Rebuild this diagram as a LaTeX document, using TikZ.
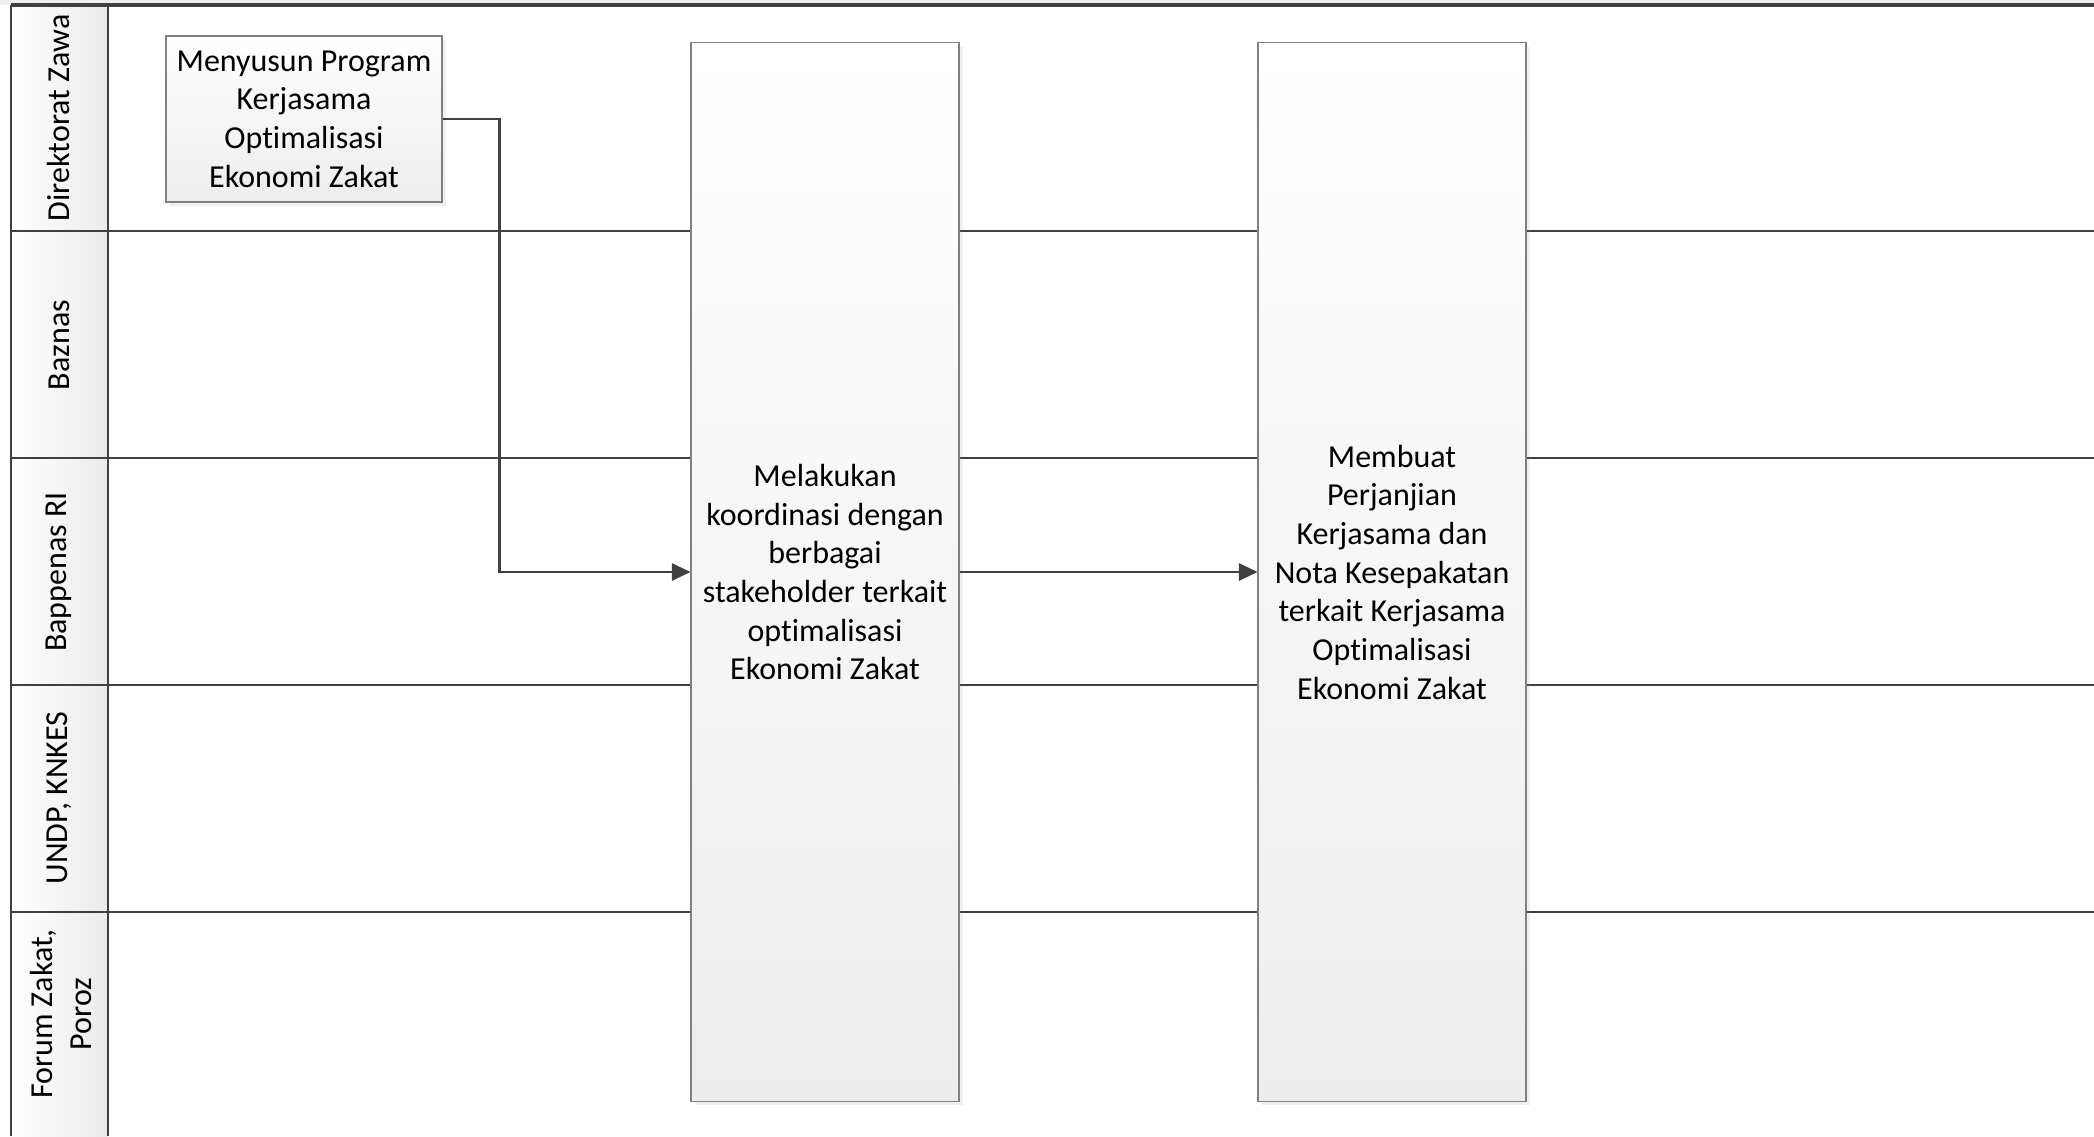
\documentclass[tikz,border=0pt]{standalone}
\usepackage{fontspec}
\setmainfont{Carlito}[Ligatures=NoCommon]
\usepackage{xcolor}
\usetikzlibrary{arrows.meta,shadows}
\definecolor{laneline}{RGB}{64,64,64}
\definecolor{boxedge}{RGB}{128,128,128}
\definecolor{headgray}{RGB}{240,240,240}
\tikzset{
  procbox/.style={
    rectangle,
    draw=boxedge,
    thick,
    top color=white,
    bottom color=black!7,
    align=center,
    inner sep=4pt,
    font=\fontsize{24}{29}\selectfont,
    drop shadow={shadow xshift=3pt,shadow yshift=-3pt,opacity=0.12}
  },
  lanelabel/.style={
    rotate=90,
    align=center,
    font=\fontsize{24}{29}\selectfont
  },
  laneline/.style={
    draw=laneline,
    line width=1.6pt
  },
  procarrow/.style={
    -{Triangle[length=14pt,width=13pt]},
    line width=1.6pt,
    draw=laneline
  }
}

\begin{document}
\begin{tikzpicture}[x=0.75pt,y=-0.75pt]
\useasboundingbox (0,0) rectangle (2094,1136);

% pool and lanes
\fill[headgray] (0,0) rectangle (2094,5);
\shade[left color=white,right color=black!8] (11,5) rectangle (108,1136);
\foreach \yy in {231,458,685,912}
  \draw[laneline] (11,\yy) -- (2094,\yy);
\draw[laneline] (11,1136) -- (11,5);
\draw[laneline] (108,5) -- (108,1136);
\draw[draw=laneline,line width=2.4pt] (11,5) -- (2094,5);

\node[lanelabel] (dirzawa) at (59,118) {Direktorat Zawa};
\node[lanelabel] (baznas) at (59,345) {Baznas};
\node[lanelabel] (bappenas) at (59,572) {Bappenas RI};
\node[lanelabel] (undp) at (59,798) {UNDP, KNKES};
\node[lanelabel] (forum) at (61,1014) {Forum Zakat,\\Poroz};

% process steps
\node[procbox, minimum width=207pt, minimum height=124.5pt] (menyusun) at (304,119)
  {Menyusun Program\\Kerjasama\\Optimalisasi\\Ekonomi Zakat};
\node[procbox, minimum width=201pt, minimum height=794pt] (koordinasi) at (825,572)
  {Melakukan\\koordinasi dengan\\berbagai\\stakeholder terkait\\optimalisasi\\Ekonomi Zakat};
\node[procbox, minimum width=201pt, minimum height=794pt] (perjanjian) at (1392,572)
  {Membuat\\Perjanjian\\Kerjasama dan\\Nota Kesepakatan\\terkait Kerjasama\\Optimalisasi\\Ekonomi Zakat};

\draw[procarrow] (menyusun.east) -- ++(57,0) |- (koordinasi.west);
\draw[procarrow] (koordinasi) -- (perjanjian);
\end{tikzpicture}
\end{document}
